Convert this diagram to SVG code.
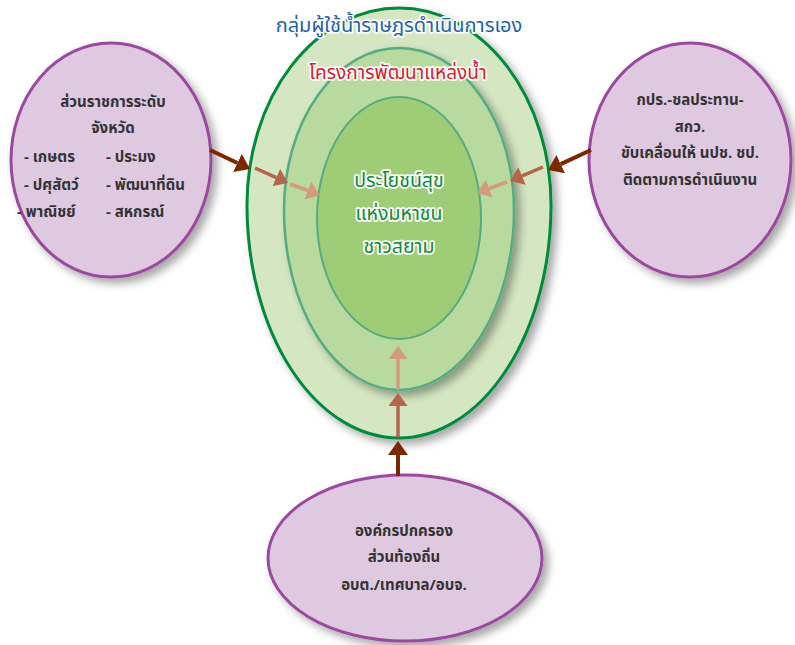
<svg xmlns="http://www.w3.org/2000/svg" width="795" height="645" viewBox="0 0 795 645">
<defs>
<style>
.th{font-family:"Noto Sans Thai","Noto Sans Thai UI","Loma","Garuda","Noto Sans","DejaVu Sans",sans-serif;}
.pn{fill:#dec9e1;stroke:#9b4a9e;stroke-width:3;}
.pt{font-size:15px;font-weight:bold;fill:#333;}
.ring1{fill:#d4e7c2;stroke:#068a3c;stroke-width:3;}
.ring2{fill:#b9da9e;stroke:#55ab82;stroke-width:2.5;}
.ring3{fill:#9fcd77;stroke:#55ab82;stroke-width:2;}
.outl{stroke:#fff;stroke-width:3.5;paint-order:stroke;stroke-linejoin:round;}
.a1{stroke:#7b2800;stroke-width:4;fill:none;}
.a2{stroke:#b4664a;stroke-width:3.5;fill:none;}
.a3{stroke:#d39a7e;stroke-width:3.5;fill:none;}
</style>
<filter id="sh" x="-20%" y="-20%" width="150%" height="150%">
<feDropShadow dx="5" dy="5" stdDeviation="4" flood-color="#000" flood-opacity="0.35"/>
</filter>
<marker id="m1" markerUnits="userSpaceOnUse" markerWidth="14" markerHeight="20" refX="0" refY="10" orient="auto" viewBox="0 0 14 20"><path d="M0,0 L14,10 L0,20 Z" fill="#7b2800"/></marker>
<marker id="m2" markerUnits="userSpaceOnUse" markerWidth="13" markerHeight="19" refX="0" refY="9.5" orient="auto" viewBox="0 0 13 19"><path d="M0,0 L13,9.5 L0,19 Z" fill="#b4664a"/></marker>
<marker id="m3" markerUnits="userSpaceOnUse" markerWidth="13" markerHeight="19" refX="0" refY="9.5" orient="auto" viewBox="0 0 13 19"><path d="M0,0 L13,9.5 L0,19 Z" fill="#d39a7e"/></marker>
</defs>
<rect width="795" height="645" fill="#fff"/>

<g id="rings">
<path class="ring1" filter="url(#sh)" d="M247,205 A152,197 0 0 1 551,205 A152,233 0 0 1 247,205 Z"/>
<path class="ring2" filter="url(#sh)" d="M284,210 A115,162 0 0 1 514,210 A115,180 0 0 1 284,210 Z"/>
<ellipse class="ring3" cx="399" cy="218" rx="82" ry="121"/>
</g>

<g id="title">
<text x="399" y="32" text-anchor="middle" font-size="20" fill="#1e62a8" class="th outl">กลุ่มผู้ใช้น้ำราษฎรดำเนินการเอง</text>
</g>
<g id="project">
<text x="398" y="79" text-anchor="middle" font-size="19" fill="#d9182b" class="th outl">โครงการพัฒนาแหล่งน้ำ</text>
</g>
<g id="center">
<text x="399" y="187" text-anchor="middle" font-size="19.5" fill="#0b8a3c" class="th outl">ประโยชน์สุข</text>
<text x="399" y="220" text-anchor="middle" font-size="19.5" fill="#0b8a3c" class="th outl">แห่งมหาชน</text>
<text x="399" y="253" text-anchor="middle" font-size="19.5" fill="#0b8a3c" class="th outl">ชาวสยาม</text>
</g>

<g id="left">
<ellipse class="pn" filter="url(#sh)" cx="111" cy="160" rx="100" ry="117"/>
<text class="th pt" x="113" y="107" text-anchor="middle">ส่วนราชการระดับ</text>
<text class="th pt" x="113" y="133" text-anchor="middle">จังหวัด</text>
<text class="th pt" x="24" y="162">- เกษตร</text>
<text class="th pt" x="24" y="190">- ปศุสัตว์</text>
<text class="th pt" x="17" y="217">- พาณิชย์</text>
<text class="th pt" x="106" y="162">- ประมง</text>
<text class="th pt" x="106" y="190">- พัฒนาที่ดิน</text>
<text class="th pt" x="106" y="217">- สหกรณ์</text>
</g>

<g id="right">
<ellipse class="pn" filter="url(#sh)" cx="690" cy="160" rx="101" ry="117"/>
<text class="th pt" x="690" y="105" text-anchor="middle">กปร.-ชลประทาน-</text>
<text class="th pt" x="690" y="132" text-anchor="middle">สกว.</text>
<text class="th pt" x="690" y="158" text-anchor="middle">ขับเคลื่อนให้ นปช. ชป.</text>
<text class="th pt" x="690" y="185" text-anchor="middle">ติดตามการดำเนินงาน</text>
</g>

<g id="bottom">
<ellipse class="pn" filter="url(#sh)" cx="405" cy="558" rx="137" ry="83"/>
<text class="th pt" x="404" y="536" text-anchor="middle">องค์กรปกครอง</text>
<text class="th pt" x="404" y="562" text-anchor="middle">ส่วนท้องถิ่น</text>
<text class="th pt" x="404" y="590" text-anchor="middle">อบต./เทศบาล/อบจ.</text>
</g>

<g id="connectors">
<line class="a1" x1="210" y1="150" x2="237.4" y2="163" marker-end="url(#m1)"/>
<line class="a2" x1="255" y1="168" x2="276.2" y2="177.6" marker-end="url(#m2)"/>
<line class="a3" x1="290" y1="184" x2="307.8" y2="190.5" marker-end="url(#m3)"/>
<line class="a1" x1="591" y1="150" x2="560.7" y2="164.1" marker-end="url(#m1)"/>
<line class="a2" x1="543" y1="167" x2="522" y2="175.9" marker-end="url(#m2)"/>
<line class="a3" x1="507" y1="182" x2="489.2" y2="188.5" marker-end="url(#m3)"/>
<line class="a1" x1="398" y1="476" x2="398" y2="455" marker-end="url(#m1)"/>
<line class="a2" x1="398" y1="437" x2="398" y2="406" marker-end="url(#m2)"/>
<line class="a3" x1="398" y1="390" x2="398" y2="359" marker-end="url(#m3)"/>
</g>
</svg>
